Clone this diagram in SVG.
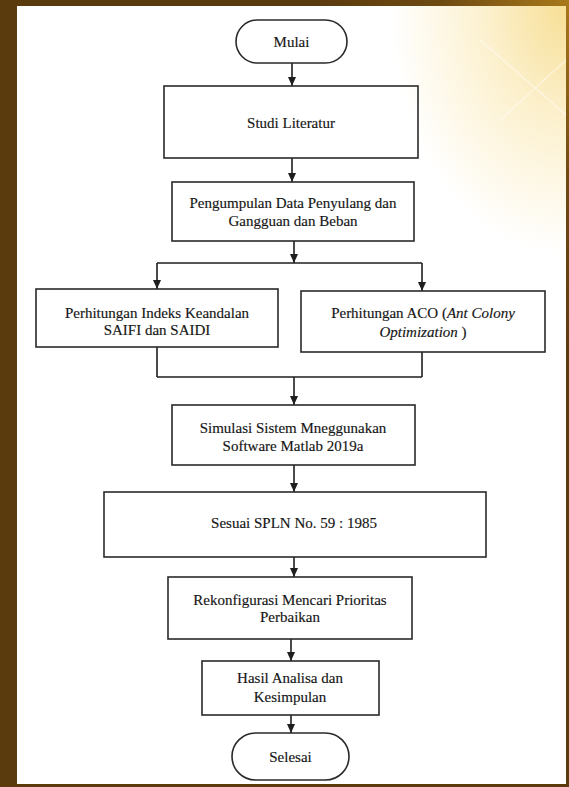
<svg xmlns="http://www.w3.org/2000/svg" width="569" height="787" viewBox="0 0 569 787">
<defs>
<radialGradient id="frameGlow" cx="1" cy="0" r="0.45">
<stop offset="0" stop-color="#a8791a"/>
<stop offset="0.5" stop-color="#6e4a12"/>
<stop offset="1" stop-color="#5a3b0e"/>
</radialGradient>
<radialGradient id="panelGlow" cx="1" cy="0" r="0.4">
<stop offset="0" stop-color="#f7df96"/>
<stop offset="0.35" stop-color="#fcf0cc"/>
<stop offset="0.8" stop-color="#ffffff"/>
<stop offset="1" stop-color="#ffffff"/>
</radialGradient>
<marker id="arr" markerWidth="10" markerHeight="10" refX="9" refY="5" orient="auto" markerUnits="userSpaceOnUse">
<path d="M0,1 L9,5 L0,9 Z" fill="#1e1e1e"/>
</marker>
<style>
.box{fill:none;stroke:#2a2a2a;stroke-width:1.6}
.line{fill:none;stroke:#1e1e1e;stroke-width:1.6}
.arrow{fill:none;stroke:#1e1e1e;stroke-width:1.6;marker-end:url(#arr)}
.lbl{font-size:15px;fill:#151515;stroke:#151515;stroke-width:0.15;text-anchor:middle}
.it{font-style:italic}
</style>
</defs>
<rect x="0" y="0" width="569" height="787" fill="#5a3b0e"/>
<rect x="0" y="0" width="569" height="787" fill="url(#frameGlow)"/>
<rect x="17" y="6" width="549" height="778" fill="url(#panelGlow)"/>
<path d="M480,40 L566,115 M566,60 L500,120" stroke="#ffffff" stroke-width="1.2" opacity="0.5"/>

<g id="connectors">
<line class="arrow" x1="292" y1="63" x2="292" y2="86"/>
<line class="arrow" x1="292" y1="158" x2="292" y2="182"/>
<line class="arrow" x1="294" y1="241" x2="294" y2="263"/>
<line class="line" x1="157" y1="263" x2="422" y2="263"/>
<line class="arrow" x1="157" y1="263" x2="157" y2="289"/>
<line class="arrow" x1="422" y1="263" x2="422" y2="291"/>
<line class="line" x1="157" y1="347" x2="157" y2="377"/>
<line class="line" x1="422" y1="352" x2="422" y2="377"/>
<line class="line" x1="157" y1="377" x2="422" y2="377"/>
<line class="arrow" x1="294" y1="377" x2="294" y2="405"/>
<line class="arrow" x1="294" y1="465" x2="294" y2="492"/>
<line class="arrow" x1="294" y1="557" x2="294" y2="577"/>
<line class="arrow" x1="291" y1="639" x2="291" y2="661"/>
<line class="arrow" x1="291" y1="715" x2="291" y2="733"/>
</g>

<g font-family="'Liberation Serif', 'DejaVu Serif', 'Times New Roman', serif">
<g id="mulai">
<rect class="box" x="236" y="20" width="111" height="43" rx="21.5" fill="#fff"/>
<text class="lbl" x="291.5" y="47">Mulai</text>
</g>
<g id="studi">
<rect class="box" x="164" y="86" width="254" height="72"/>
<text class="lbl" x="291" y="128">Studi Literatur</text>
</g>
<g id="pengumpulan">
<rect class="box" x="172" y="182" width="242" height="59"/>
<text class="lbl" x="293" y="208">Pengumpulan Data Penyulang dan</text>
<text class="lbl" x="293" y="226">Gangguan dan Beban</text>
</g>
<g id="indeks">
<rect class="box" x="36" y="289" width="242" height="58"/>
<text class="lbl" x="157" y="318">Perhitungan Indeks Keandalan</text>
<text class="lbl" x="157" y="335">SAIFI dan SAIDI</text>
</g>
<g id="aco">
<rect class="box" x="301" y="291" width="244" height="61"/>
<text class="lbl" x="423" y="318">Perhitungan ACO (<tspan class="it">Ant Colony</tspan></text>
<text class="lbl" x="423" y="337"><tspan class="it">Optimization</tspan> )</text>
</g>
<g id="simulasi">
<rect class="box" x="172" y="405" width="243" height="60"/>
<text class="lbl" x="293" y="433">Simulasi Sistem Mneggunakan</text>
<text class="lbl" x="293" y="451">Software Matlab 2019a</text>
</g>
<g id="sesuai">
<rect class="box" x="104" y="492" width="382" height="65"/>
<text class="lbl" x="294" y="528">Sesuai SPLN No. 59 : 1985</text>
</g>
<g id="rekonfigurasi">
<rect class="box" x="168" y="577" width="244" height="62"/>
<text class="lbl" x="290" y="605">Rekonfigurasi Mencari Prioritas</text>
<text class="lbl" x="290" y="622">Perbaikan</text>
</g>
<g id="hasil">
<rect class="box" x="202" y="661" width="177" height="54"/>
<text class="lbl" x="290" y="683">Hasil Analisa dan</text>
<text class="lbl" x="290" y="702">Kesimpulan</text>
</g>
<g id="selesai">
<rect class="box" x="232" y="733" width="117" height="47" rx="23.5" fill="#fff"/>
<text class="lbl" x="290.5" y="762">Selesai</text>
</g>
</g>
</svg>
